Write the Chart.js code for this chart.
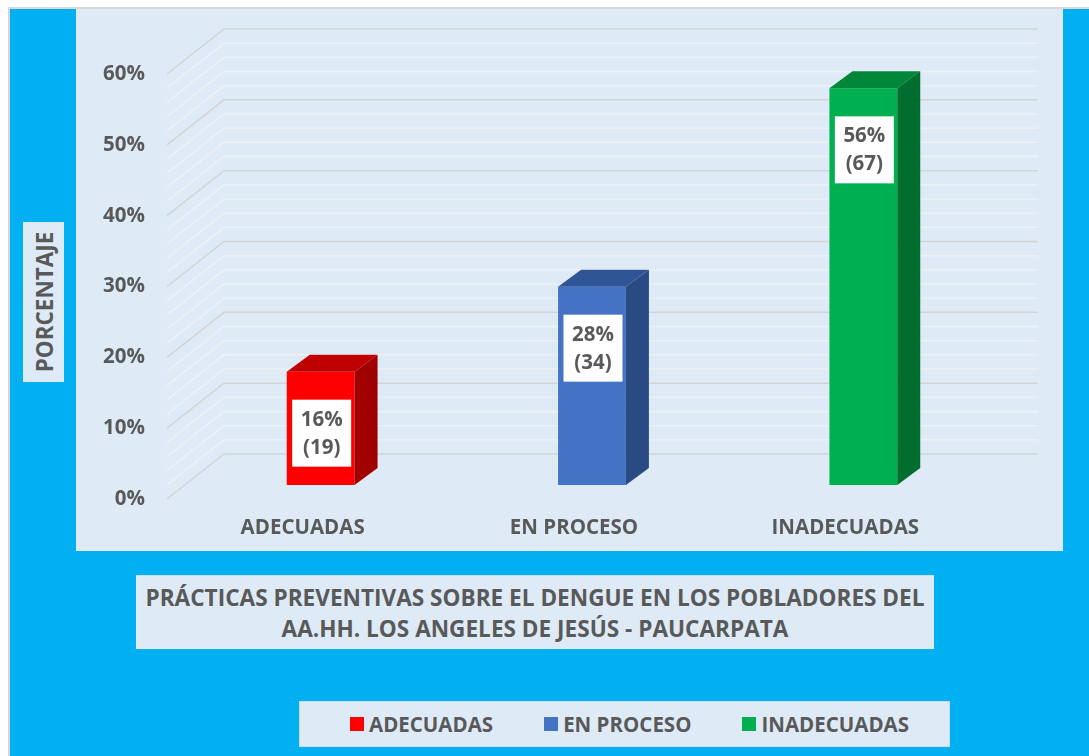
<!DOCTYPE html>
<html>
<head>
<meta charset="utf-8">
<script src="https://cdn.jsdelivr.net/npm/chart.js@4/dist/chart.umd.min.js"></script>
<style>
  html, body { margin: 0; padding: 0; background: #fff; }
  body { width: 1089px; height: 756px; position: relative; overflow: hidden; font-family: 'Open Sans', sans-serif; color: #595959; }
  #frame { position: absolute; left: 8px; top: 7px; right: 0; bottom: 0; background: #00b0f0; border-left: 2px solid #d4d4d4; border-top: 2px solid #d9d9d9; }
  #panel { position: absolute; left: 76px; top: 9px; width: 987px; height: 542px; background: #deebf7; }
  #ytitle { position: absolute; left: 23px; top: 222px; width: 41px; height: 160px; background: #deebf7; }
  #ytitle span { position: absolute; left: 50%; top: 50%; transform: translate(-50%, -50%) rotate(-90deg); white-space: nowrap; font-weight: 700; font-size: 22.5px; }
  #title { position: absolute; left: 136px; top: 575px; width: 798px; height: 73px; background: #deebf7; border-top: 1px solid #c9def2;
           font-weight: 700; font-size: 22.6px; line-height: 31px; text-align: center; display: flex; align-items: center; justify-content: center; white-space: nowrap; }
  #legend { position: absolute; left: 299px; top: 701px; width: 651px; height: 46px; background: #deebf7; border: 1px solid #c9def2; box-sizing: border-box;
            display: flex; align-items: center; padding-left: 50px; font-weight: 700; font-size: 20.5px; white-space: nowrap; }
  .item { display: flex; align-items: center; margin-right: 51px; flex-shrink: 0; }
  .swatch { width: 14px; height: 14px; margin-right: 5px; flex-shrink: 0; }
  #chartWrap { position: absolute; left: 0; top: 0; width: 1089px; height: 756px; }
</style>
</head>
<body>
<div id="frame"></div>
<div id="panel"></div>
<div id="ytitle"><span>PORCENTAJE</span></div>
<div id="title">PRÁCTICAS PREVENTIVAS SOBRE EL DENGUE EN LOS POBLADORES DEL<br>AA.HH. LOS ANGELES DE JESÚS - PAUCARPATA</div>
<div id="legend"></div>
<div id="chartWrap"><canvas id="chart" width="1089" height="756"></canvas></div>
<script>
// datos
const categories = ['ADECUADAS', 'EN PROCESO', 'INADECUADAS'];
const percentages = [16, 28, 56];
const counts = [19, 34, 67];
const yTicksMax = 60;

// colores: frente, tapa, lateral
const frontColors = ['#ff0000', '#4472c4', '#00b050'];
const topColors = ['#c00000', '#2f5597', '#00873a'];
const sideColors = ['#a00000', '#2a4a84', '#006e2e'];
const textColor = '#595959';

// profundidad 3D
const BAR_DX = 23, BAR_DY = -17;
const WALL_DX = 39, WALL_DY = -31;
const EDGE_DX = -18, EDGE_DY = 14;

// leyenda en HTML
const legendEl = document.getElementById('legend');
categories.forEach((c, i) => {
    const it = document.createElement('div');
    it.className = 'item';
    it.innerHTML = '<div class="swatch" style="background:' + frontColors[i] + '"></div><span>' + c + '</span>';
    legendEl.appendChild(it);
});

// pared del fondo con líneas de cuadrícula
const wallGrid = {
    id: 'wallGrid',
    beforeDatasetsDraw(chart) {
        const ctx = chart.ctx;
        const y = chart.scales.y;
        const area = chart.chartArea;
        ctx.save();
        ctx.lineWidth = 1.5;
        // primero las menores, luego las principales
        [false, true].forEach(major => {
            y.ticks.forEach(t => {
                if ((t.value % 10 === 0) !== major) return;
                const py = y.getPixelForValue(t.value);
                ctx.strokeStyle = major ? '#d3d3d3' : '#eef1f4';
                ctx.beginPath();
                ctx.moveTo(area.left + EDGE_DX, py + EDGE_DY);
                ctx.lineTo(area.left + WALL_DX, py + WALL_DY);
                ctx.lineTo(area.right + WALL_DX, py + WALL_DY);
                ctx.stroke();
            });
        });
        ctx.restore();
    }
};

// caras 3D y etiquetas de datos
const bars3d = {
    id: 'bars3d',
    afterDatasetsDraw(chart) {
        const ctx = chart.ctx;
        const meta = chart.getDatasetMeta(0);
        ctx.save();
        meta.data.forEach((bar, i) => {
            const x0 = bar.x - bar.width / 2, x1 = bar.x + bar.width / 2;
            const top = bar.y, base = bar.base;
            ctx.fillStyle = topColors[i];
            ctx.beginPath();
            ctx.moveTo(x0, top);
            ctx.lineTo(x1, top);
            ctx.lineTo(x1 + BAR_DX, top + BAR_DY);
            ctx.lineTo(x0 + BAR_DX, top + BAR_DY);
            ctx.closePath();
            ctx.fill();
            ctx.fillStyle = sideColors[i];
            ctx.beginPath();
            ctx.moveTo(x1, top);
            ctx.lineTo(x1 + BAR_DX, top + BAR_DY);
            ctx.lineTo(x1 + BAR_DX, base + BAR_DY);
            ctx.lineTo(x1, base);
            ctx.closePath();
            ctx.fill();

            // etiqueta
            const bw = 59, bh = 67;
            const bx = bar.x + 1 - bw / 2, by = top + 28;
            ctx.fillStyle = '#ffffff';
            ctx.fillRect(bx, by, bw, bh);
            ctx.fillStyle = textColor;
            ctx.font = 'bold 20.5px "Open Sans"';
            ctx.textAlign = 'center';
            ctx.textBaseline = 'middle';
            ctx.fillText(percentages[i] + '%', bx + bw / 2, by + 20);
            ctx.fillText('(' + counts[i] + ')', bx + bw / 2, by + 48);
        });
        ctx.restore();
    }
};

new Chart(document.getElementById('chart'), {
    type: 'bar',
    data: {
        labels: categories,
        datasets: [{
            data: percentages,
            backgroundColor: frontColors,
            borderWidth: 0,
            barPercentage: 0.25,
            categoryPercentage: 1
        }]
    },
    options: {
        responsive: false,
        animation: false,
        devicePixelRatio: 1,
        layout: { padding: { left: 0, top: 60, right: 90, bottom: 0 } },
        plugins: { legend: { display: false }, tooltip: { enabled: false } },
        scales: {
            x: {
                grid: { display: false, drawTicks: false },
                border: { display: false },
                ticks: { color: textColor, font: { family: 'Open Sans', size: 20.5, weight: 'bold' }, padding: 31, labelOffset: EDGE_DX, maxRotation: 0 },
                afterFit(scale) { scale.height = 271; }
            },
            y: {
                min: 0,
                max: yTicksMax,
                grid: { display: false, drawTicks: false },
                border: { display: false },
                ticks: {
                    stepSize: 2,
                    autoSkip: false,
                    color: textColor,
                    font: { family: 'Open Sans', size: 20.5, weight: 'bold' },
                    padding: 40,
                    labelOffset: EDGE_DY,
                    callback: v => (v % 10 === 0 ? v + '%' : '')
                },
                afterFit(scale) { scale.width = 185; }
            }
        }
    },
    plugins: [wallGrid, bars3d]
});
</script>
</body>
</html>
